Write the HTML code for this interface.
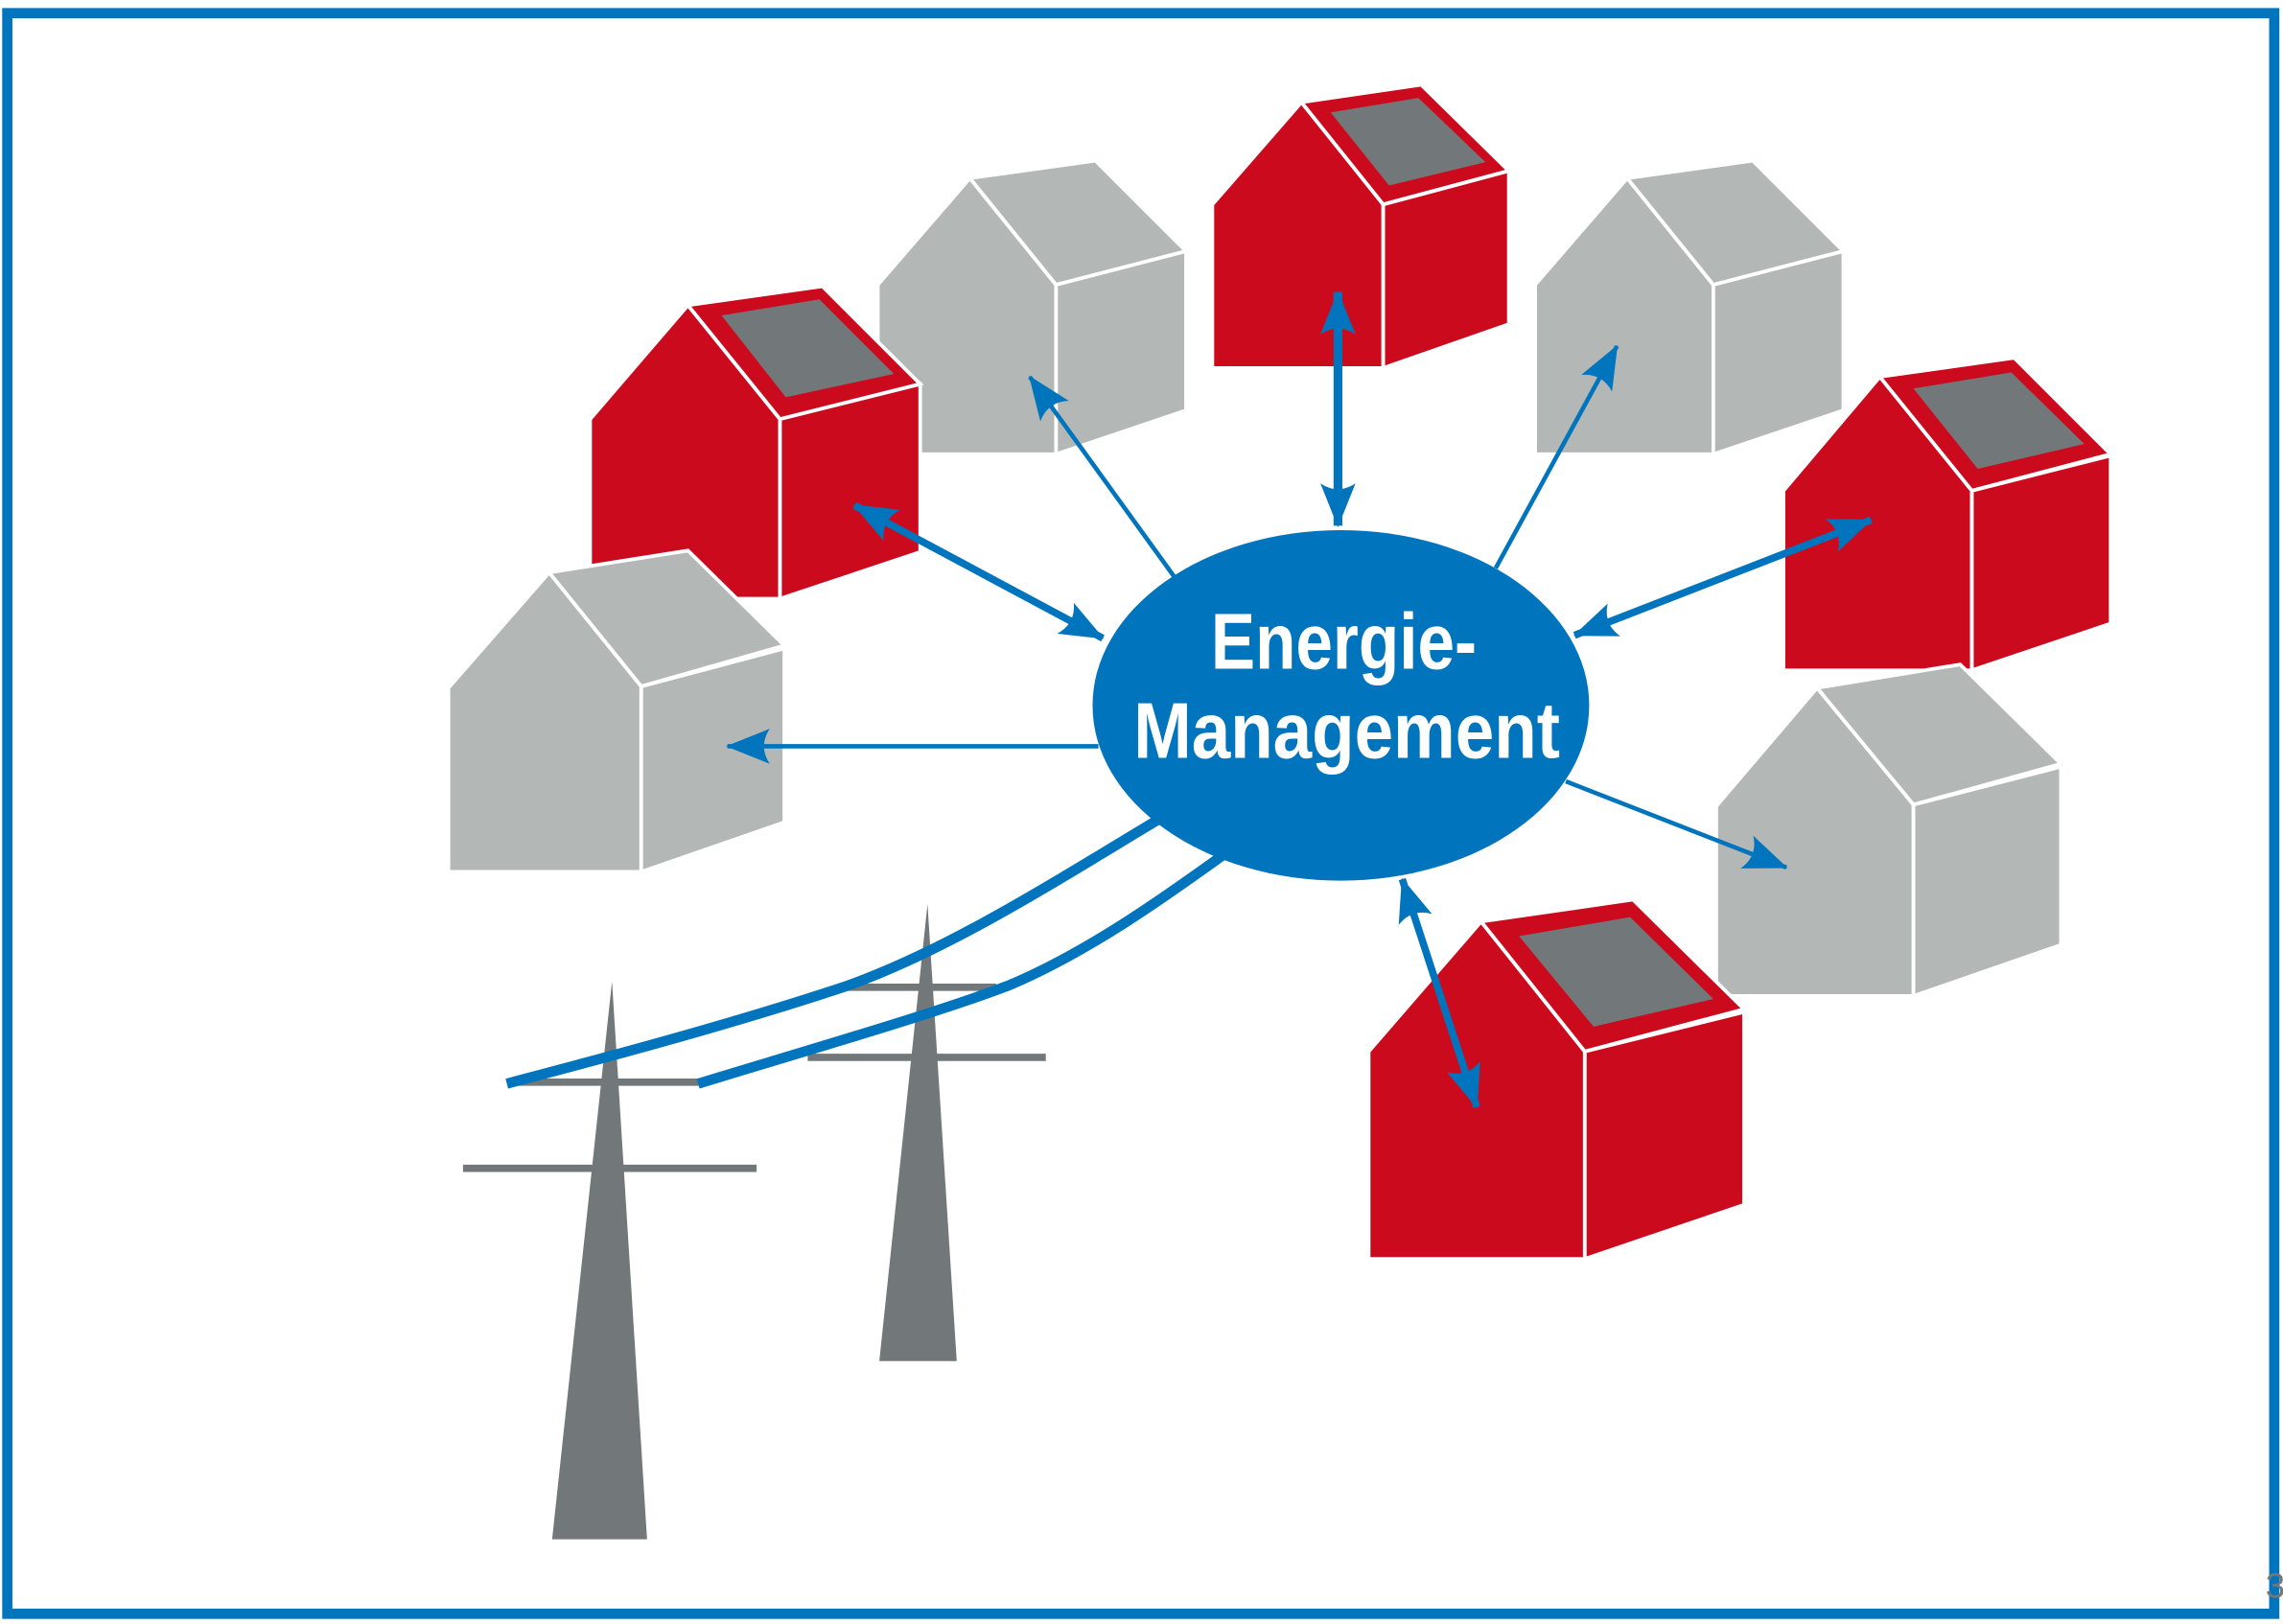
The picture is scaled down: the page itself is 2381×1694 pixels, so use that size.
<!DOCTYPE html>
<html><head><meta charset="utf-8"><style>
html,body{margin:0;padding:0;background:#fff}
svg{display:block}
</style></head><body>
<svg width="2381" height="1694" viewBox="0 0 1563 1112" preserveAspectRatio="none" xmlns="http://www.w3.org/2000/svg">
<defs>
<marker id="ah" viewBox="0 0 30 24" refX="29" refY="12" markerWidth="30" markerHeight="24" markerUnits="userSpaceOnUse" orient="auto-start-reverse">
<path d="M0,0 L30,12 L0,24 Q8,12 0,0 Z" fill="#0075bd"/>
</marker>
</defs>
<rect x="0" y="0" width="1563" height="1112" fill="#fff"/>
<rect x="5" y="9" width="1552" height="1096" fill="none" stroke="#0075bd" stroke-width="7"/>
<g stroke="#fff" stroke-width="2.5" stroke-linejoin="miter">
<polygon points="601,195 664,122 723,195 723,311 601,311" fill="#b3b7b6"/>
<polygon points="664,122 750,110 812,172 723,195" fill="#b3b7b6"/>
<polygon points="723,195 812,172 812,281 723,311" fill="#b3b7b6"/>
<polygon points="1051,195 1114,122 1173,195 1173,311 1051,311" fill="#b3b7b6"/>
<polygon points="1114,122 1200,110 1262,172 1173,195" fill="#b3b7b6"/>
<polygon points="1173,195 1262,172 1262,281 1173,311" fill="#b3b7b6"/>
<polygon points="830,140 891,70 947,140 947,252 830,252" fill="#cc0a1e"/>
<polygon points="891,70 973,58 1033,117 947,140" fill="#cc0a1e"/>
<polygon points="947,140 1033,117 1033,222 947,252" fill="#cc0a1e"/>
<polygon points="404,287 471,209 534,287 534,410 404,410" fill="#cc0a1e"/>
<polygon points="471,209 563,196 630,263 534,287" fill="#cc0a1e"/>
<polygon points="534,287 630,263 630,378 534,410" fill="#cc0a1e"/>
<polygon points="307,471 376,392 439,470 439,597 307,597" fill="#b3b7b6"/>
<polygon points="376,392 471,377 537,442 439,470" fill="#b3b7b6"/>
<polygon points="439,470 537,444 537,563 439,597" fill="#b3b7b6"/>
<polygon points="1221,336 1287,258 1350,336 1350,459 1221,459" fill="#cc0a1e"/>
<polygon points="1287,258 1379,245 1445,311 1350,336" fill="#cc0a1e"/>
<polygon points="1350,336 1445,312 1445,427 1350,459" fill="#cc0a1e"/>
<polygon points="1175,552 1244,471 1310,551 1310,682 1175,682" fill="#b3b7b6"/>
<polygon points="1244,471 1342,455 1411,523 1310,551" fill="#b3b7b6"/>
<polygon points="1310,551 1411,525 1411,647 1310,682" fill="#b3b7b6"/>
<polygon points="937,720 1014,631 1085,720 1085,862 937,862" fill="#cc0a1e"/>
<polygon points="1014,631 1118,616 1194,691 1085,720" fill="#cc0a1e"/>
<polygon points="1085,720 1194,693 1194,825 1085,862" fill="#cc0a1e"/>
</g>
<g fill="#727879">
<polygon points="911,77 971,67 1017,111 951,127"/>
<polygon points="494,216 561,205 612,256 538,272"/>
<polygon points="1310,266 1377,255 1427,304 1354,321"/>
<polygon points="1040,641 1116,628 1173,684 1091,703"/>
<polygon points="378,1054 443,1054 419,672"/>
<polygon points="602,932 655,932 635,619"/>
</g>
<g stroke="#727879" stroke-width="5">
<line x1="350" y1="741" x2="480" y2="741"/>
<line x1="317" y1="800" x2="518" y2="800"/>
<line x1="580" y1="676" x2="682" y2="676"/>
<line x1="553" y1="724" x2="716" y2="724"/>
</g>
<g fill="none" stroke="#0075bd" stroke-width="7">
<path d="M347,742 C450,715 520,695 580,675 C650,650 720,605 795,560"/>
<path d="M478,742 C550,720 640,694 690,675 C750,650 810,605 845,580"/>
</g>
<g stroke="#0075bd" fill="none">
<line x1="916" y1="200" x2="916" y2="360" stroke-width="6" marker-start="url(#ah)" marker-end="url(#ah)"/>
<line x1="585" y1="346" x2="755" y2="437" stroke-width="5" marker-start="url(#ah)" marker-end="url(#ah)"/>
<line x1="804" y1="395" x2="705" y2="258" stroke-width="3" marker-end="url(#ah)"/>
<line x1="1024" y1="389" x2="1107" y2="237" stroke-width="3" marker-end="url(#ah)"/>
<line x1="1281" y1="356" x2="1078" y2="435" stroke-width="5" marker-start="url(#ah)" marker-end="url(#ah)"/>
<line x1="752" y1="511" x2="498" y2="511" stroke-width="3" marker-end="url(#ah)"/>
<line x1="1072" y1="535" x2="1223" y2="594" stroke-width="3" marker-end="url(#ah)"/>
<line x1="960" y1="602" x2="1011" y2="758" stroke-width="5" marker-start="url(#ah)" marker-end="url(#ah)"/>
</g>
<ellipse cx="918" cy="483" rx="170" ry="120" fill="#0075bd"/>
<g fill="#fff" font-family="'Liberation Sans Narrow','Liberation Sans',sans-serif" font-weight="bold" font-size="54" text-anchor="middle">
<text x="920" y="458" textLength="182" lengthAdjust="spacingAndGlyphs">Energie-</text>
<text x="922" y="519" textLength="292" lengthAdjust="spacingAndGlyphs">Management</text>
</g>
<text x="1551" y="1094" font-family="'Liberation Sans Narrow','Liberation Sans',sans-serif" font-size="24" fill="#727879">3</text>
</svg>
</body></html>
